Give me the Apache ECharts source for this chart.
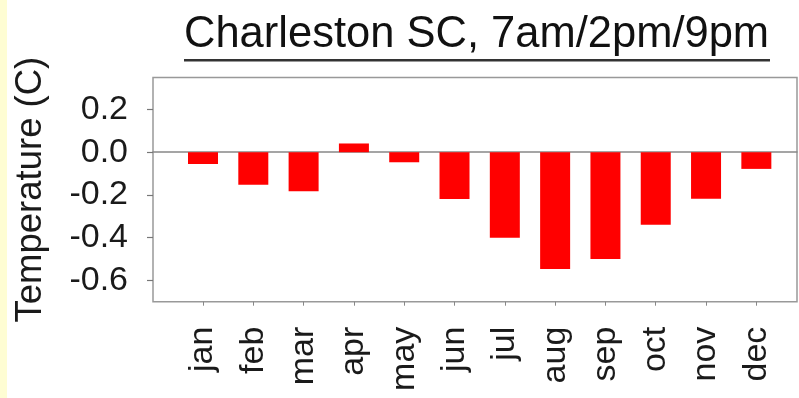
<!DOCTYPE html>
<html>
<head>
<meta charset="utf-8">
<script src="https://cdn.jsdelivr.net/npm/echarts@6/dist/echarts.min.js"></script>
<style>
html,body{margin:0;padding:0;background:#fff;}
#chart{width:799px;height:398px;}
</style>
</head>
<body>
<div id="chart"></div>
<script>
// Data
const months = ['jan','feb','mar','apr','may','jun','jul','aug','sep','oct','nov','dec'];
const tempDiff = [-0.055, -0.152, -0.183, 0.041, -0.047, -0.219, -0.40, -0.547, -0.50, -0.34, -0.218, -0.078];
const yTicks = [-0.6, -0.4, -0.2, 0.0, 0.2];
const titleText = 'Charleston SC, 7am/2pm/9pm';
const yName = 'Temperature (C)';

const FONT = 'Liberation Sans, Arial, Helvetica, sans-serif';
const chart = echarts.init(document.getElementById('chart'), null, {renderer: 'canvas'});

const option = {
  backgroundColor: '#ffffff',
  animation: false,
  graphic: [{
    type: 'rect', left: 0, top: 0, z: -10,
    shape: {width: 7, height: 398},
    style: {fill: '#fefdd3'}
  }],
  title: {
    text: '{t|' + titleText + '}\n{u|}',
    left: 179, top: 5,
    textStyle: {
      fontWeight: 'normal',
      rich: {
        t: {fontFamily: FONT, fontSize: 43.5, fontWeight: 'normal', color: '#111', lineHeight: 49},
        u: {width: 586, height: 2.5, backgroundColor: '#333'}
      }
    }
  },
  grid: [
    {left: 153, top: 77.5, right: 2, bottom: 96.3, show: true, borderColor: '#999', borderWidth: 1.5, backgroundColor: 'transparent'},
    {left: 177.85, top: 77.5, right: 17.5, bottom: 96.3}
  ],
  xAxis: [
    {
      type: 'category', gridIndex: 0, data: [''],
      axisLine: {show: true, onZero: true, lineStyle: {color: '#888', width: 1.5}},
      axisTick: {show: false}, axisLabel: {show: false}, splitLine: {show: false}
    },
    {
      type: 'category', gridIndex: 1, data: months,
      axisLine: {show: false, onZero: false},
      axisTick: {show: true, alignWithLabel: true, length: 4, lineStyle: {color: '#888', width: 1}},
      axisLabel: {rotate: 90, fontFamily: FONT, fontSize: 34, color: '#1a1a1a', margin: 25, interval: 0},
      splitLine: {show: false}
    }
  ],
  yAxis: [
    {
      type: 'value', gridIndex: 0, min: -0.7, max: 0.35,
      axisLine: {show: false},
      axisTick: {show: true, customValues: yTicks, length: 6, lineStyle: {color: '#777', width: 1.2}},
      axisLabel: {customValues: yTicks, formatter: v => Number(v).toFixed(1), fontFamily: FONT, fontSize: 34, color: '#1a1a1a', margin: 25},
      splitLine: {show: false},
      name: yName, nameLocation: 'middle', nameGap: 104,
      nameTextStyle: {fontFamily: FONT, fontSize: 36.5, color: '#1a1a1a'}
    },
    {
      type: 'value', gridIndex: 1, min: -0.7, max: 0.35, show: false, splitLine: {show: false}
    }
  ],
  series: [{
    type: 'bar', xAxisIndex: 1, yAxisIndex: 1,
    data: tempDiff, barWidth: 30,
    itemStyle: {color: '#ff0000'}
  }]
};
chart.setOption(option);
</script>
</body>
</html>
